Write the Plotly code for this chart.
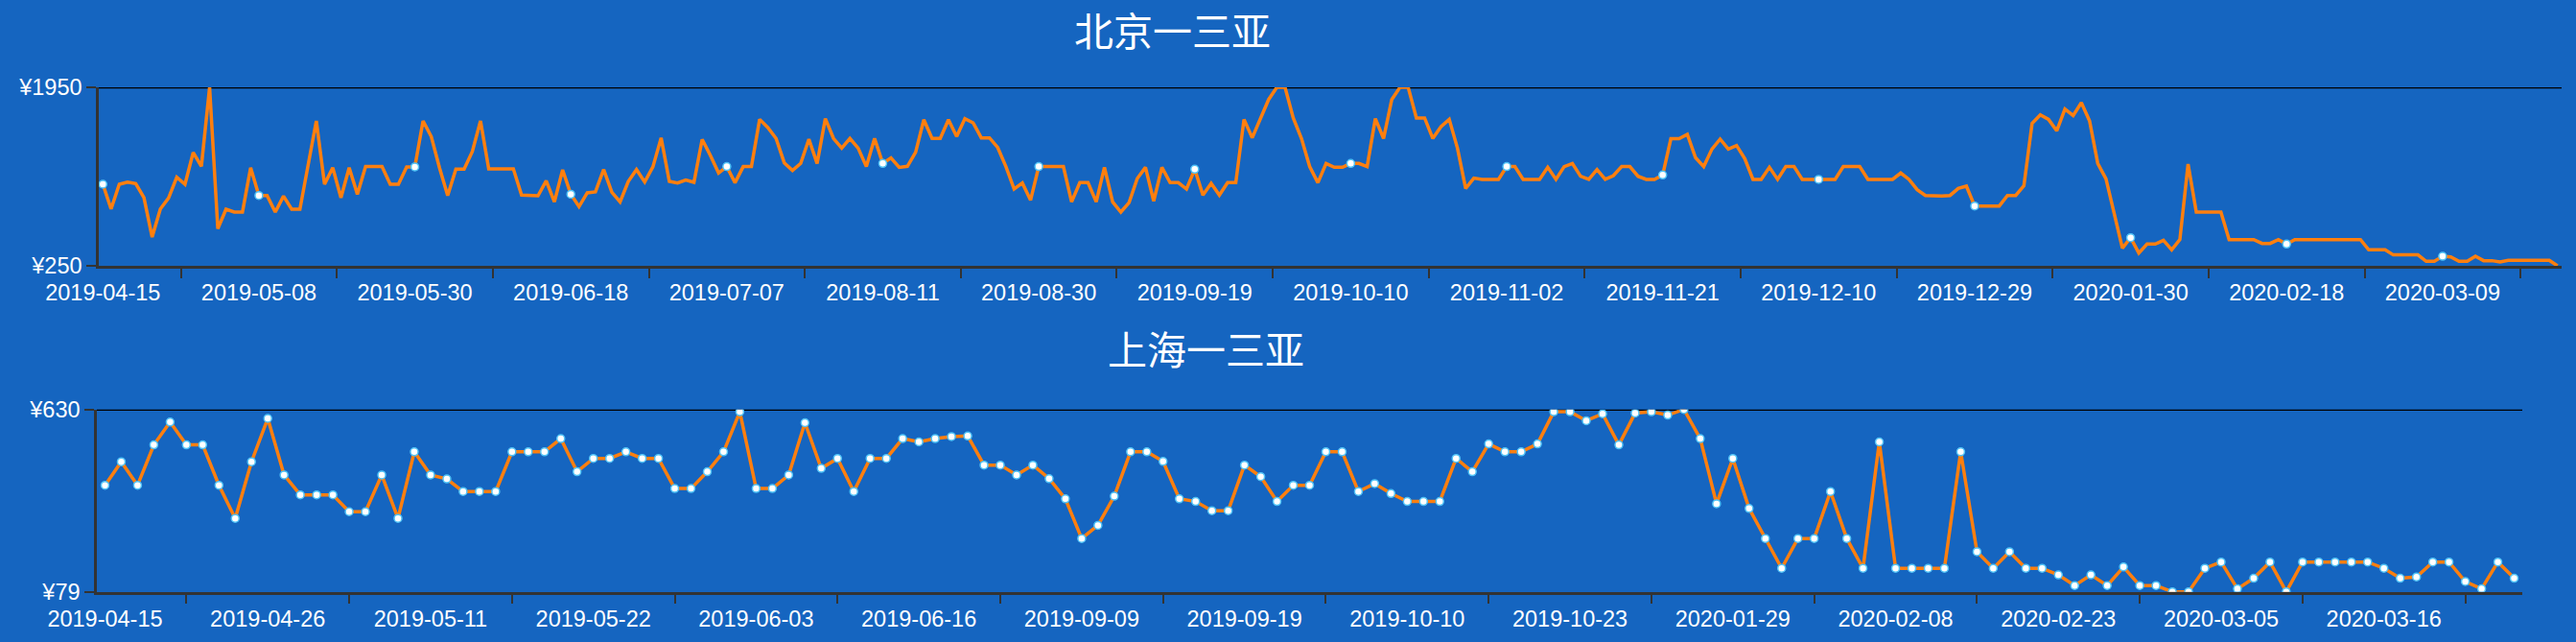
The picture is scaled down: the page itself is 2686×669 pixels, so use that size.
import plotly.graph_objects as go

# ---------------- data ----------------
beijing_labels = ["2019-04-15", "2019-05-08", "2019-05-30", "2019-06-18", "2019-07-07",
                  "2019-08-11", "2019-08-30", "2019-09-19", "2019-10-10", "2019-11-02",
                  "2019-11-21", "2019-12-10", "2019-12-29", "2020-01-30", "2020-02-18",
                  "2020-03-09"]
beijing_prices = [
    1027, 792, 1027, 1048, 1033, 899, 524, 792, 896, 1094,
    1027, 1329, 1198, 1950, 603, 789, 762, 762, 1185, 920,
    920, 762, 914, 789, 789, 1210, 1630, 1027, 1185, 899,
    1185, 932, 1195, 1195, 1195, 1027, 1027, 1192, 1192, 1630,
    1481, 1185, 920, 1170, 1170, 1338, 1630, 1173, 1173, 1173,
    1173, 923, 917, 917, 1060, 859, 1164, 932, 814, 945,
    954, 1167, 951, 859, 1054, 1167, 1048, 1192, 1469, 1054,
    1039, 1067, 1045, 1454, 1301, 1134, 1195, 1042, 1195, 1195,
    1645, 1566, 1463, 1231, 1158, 1225, 1457, 1225, 1652, 1463,
    1371, 1463, 1371, 1195, 1463, 1225, 1277, 1188, 1198, 1332,
    1642, 1463, 1463, 1642, 1481, 1652, 1612, 1469, 1469, 1377,
    1195, 981, 1039, 875, 1195, 1195, 1195, 1195, 859, 1042,
    1042, 859, 1188, 859, 762, 853, 1082, 1188, 865, 1188,
    1042, 1042, 981, 1170, 923, 1036, 923, 1042, 1042, 1645,
    1469, 1650, 1834, 1950, 1950, 1658, 1463, 1195, 1042, 1225,
    1188, 1188, 1225, 1225, 1195, 1652, 1463, 1834, 1950, 1950,
    1658, 1658, 1463, 1575, 1645, 1371, 987, 1085, 1073, 1073,
    1073, 1195, 1195, 1073, 1073, 1073, 1188, 1073, 1195, 1225,
    1103, 1073, 1167, 1073, 1109, 1195, 1195, 1103, 1073, 1073,
    1115, 1460, 1460, 1502, 1280, 1195, 1362, 1457, 1362, 1396,
    1271, 1073, 1073, 1188, 1073, 1195, 1195, 1073, 1073, 1073,
    1073, 1073, 1195, 1195, 1195, 1073, 1073, 1073, 1073, 1134,
    1073, 975, 920, 917, 914, 920, 987, 1009, 820, 820,
    820, 820, 920, 920, 1012, 1606, 1688, 1645, 1536, 1743,
    1682, 1804, 1630, 1225, 1079, 744, 418, 518, 372, 457,
    457, 494, 402, 500, 1219, 762, 762, 762, 762, 500,
    500, 500, 500, 463, 463, 500, 457, 500, 500, 500,
    500, 500, 500, 500, 500, 500, 402, 402, 402, 354,
    354, 354, 354, 293, 293, 341, 335, 293, 293, 341,
    299, 299, 287, 302, 302, 302, 302, 302, 302, 250,
]
beijing_label_step = 19

shanghai_labels = ["2019-04-15", "2019-04-26", "2019-05-11", "2019-05-22", "2019-06-03",
                   "2019-06-16", "2019-09-09", "2019-09-19", "2019-10-10", "2019-10-23",
                   "2020-01-29", "2020-02-08", "2020-02-23", "2020-03-05", "2020-03-16"]
shanghai_prices = [
    401, 472, 401, 523, 592, 523, 523, 401, 301, 472,
    603, 432, 372, 372, 372, 321, 321, 432, 301, 502,
    432, 420, 382, 382, 382, 502, 502, 502, 542, 442,
    482, 482, 502, 482, 482, 391, 391, 442, 502, 623,
    391, 391, 432, 590, 452, 482, 382, 482, 482, 542,
    532, 542, 548, 550, 462, 462, 432, 462, 421, 360,
    240, 280, 368, 502, 502, 473, 360, 352, 324, 324,
    462, 427, 352, 401, 401, 502, 502, 382, 406, 376,
    352, 352, 352, 482, 442, 526, 502, 502, 526, 623,
    623, 596, 617, 523, 619, 623, 613, 630, 542, 345,
    482, 331, 240, 150, 240, 240, 382, 240, 150, 532,
    150, 150, 150, 150, 502, 200, 150, 200, 150, 150,
    130, 98, 130, 98, 154, 98, 98, 79, 79, 150,
    169, 88, 120, 169, 79, 169, 169, 169, 169, 169,
    150, 120, 124, 169, 169, 110, 88, 169, 120,
]
shanghai_label_step = 10

titles = ["北京一三亚", "上海一三亚"]

# ---------------- style / layout constants ----------------
W, H = 2686, 669
BG = "#1565C0"
ORANGE = "#FF7F0E"
AXIS = "#333333"
MARK_EDGE = "#4FC3F7"
FONT = "Liberation Sans, Arial, sans-serif"
CJK = "Noto Sans CJK SC"
TICK_FONT = dict(color="white", size=23.5, family=FONT)


def fx(p):
    return p / W


def fy(p):
    return 1 - p / H


panels = [
    dict(prices=beijing_prices, labels=beijing_labels, step=beijing_label_step,
         all_markers=False, xpx=(103, 2671), ypx=(91, 277), title=titles[0], tpx=(1222, 30)),
    dict(prices=shanghai_prices, labels=shanghai_labels, step=shanghai_label_step,
         all_markers=True, xpx=(101, 2630), ypx=(426.7, 616.7), title=titles[1], tpx=(1257, 362)),
]

fig = go.Figure()
layout = dict(
    width=W, height=H,
    margin=dict(l=0, r=0, t=0, b=0, pad=0, autoexpand=False),
    paper_bgcolor=BG, plot_bgcolor=BG,
    showlegend=False,
    hovermode="closest",
    annotations=[], shapes=[],
)

for k, p in enumerate(panels, start=1):
    xa = "x" if k == 1 else f"x{k}"
    ya = "y" if k == 1 else f"y{k}"
    prices = p["prices"]
    n = len(prices)
    xs = list(range(n))
    label_idx = [i * p["step"] for i in range(len(p["labels"]))]
    tick_idx = [i + p["step"] / 2 for i in label_idx if i + p["step"] / 2 < n - 0.5]

    fig.add_trace(go.Scatter(
        x=xs, y=prices, mode="lines",
        line=dict(color=ORANGE, width=3.5),
        xaxis=xa, yaxis=ya, hoverinfo="y",
    ))
    mk_idx = xs if p["all_markers"] else label_idx
    fig.add_trace(go.Scatter(
        x=mk_idx, y=[prices[i] for i in mk_idx], mode="markers",
        marker=dict(color="white", size=8, line=dict(color=MARK_EDGE, width=1.5)),
        xaxis=xa, yaxis=ya, hoverinfo="y",
    ))

    lo, hi = min(prices), max(prices)
    layout["xaxis" if k == 1 else f"xaxis{k}"] = dict(
        domain=[fx(p["xpx"][0]), fx(p["xpx"][1])],
        anchor=ya, automargin=False,
        range=[-0.5, n - 0.5],
        tickmode="array", tickvals=label_idx, ticktext=p["labels"],
        ticks="outside", ticklen=5, tickcolor="rgba(0,0,0,0)", tickwidth=2,
        minor=dict(tickmode="array", tickvals=tick_idx, ticks="outside",
                   ticklen=10, tickcolor=AXIS, tickwidth=2, showgrid=False),
        showline=True, linecolor=AXIS, linewidth=2.5,
        showgrid=False, zeroline=False,
        tickfont=TICK_FONT, fixedrange=True,
    )
    layout["yaxis" if k == 1 else f"yaxis{k}"] = dict(
        domain=[fy(p["ypx"][1]), fy(p["ypx"][0])],
        anchor=xa, automargin=False,
        range=[lo, hi],
        tickmode="array", tickvals=[lo, hi], ticktext=[f"¥{lo}", f"¥{hi}"],
        ticks="outside", ticklen=10, tickcolor=AXIS, tickwidth=2,
        showline=True, linecolor=AXIS, linewidth=2.5,
        showgrid=False, zeroline=False,
        tickfont=TICK_FONT, fixedrange=True,
    )
    # black reference line at the maximum price
    layout["shapes"].append(dict(
        type="line", xref=f"{xa} domain", x0=0, x1=1, yref=ya, y0=hi, y1=hi,
        line=dict(color="black", width=2.5), layer="below",
    ))
    layout["annotations"].append(dict(
        text=p["title"], xref="paper", yref="paper",
        x=fx(p["tpx"][0]), y=fy(p["tpx"][1]), xanchor="center", yanchor="middle",
        showarrow=False, font=dict(color="white", size=41, family=CJK),
    ))

fig.update_layout(**layout)
fig.write_html("out.html", config={"displayModeBar": False},
               post_script="document.body.style.margin='0';document.body.style.overflow='hidden';")
